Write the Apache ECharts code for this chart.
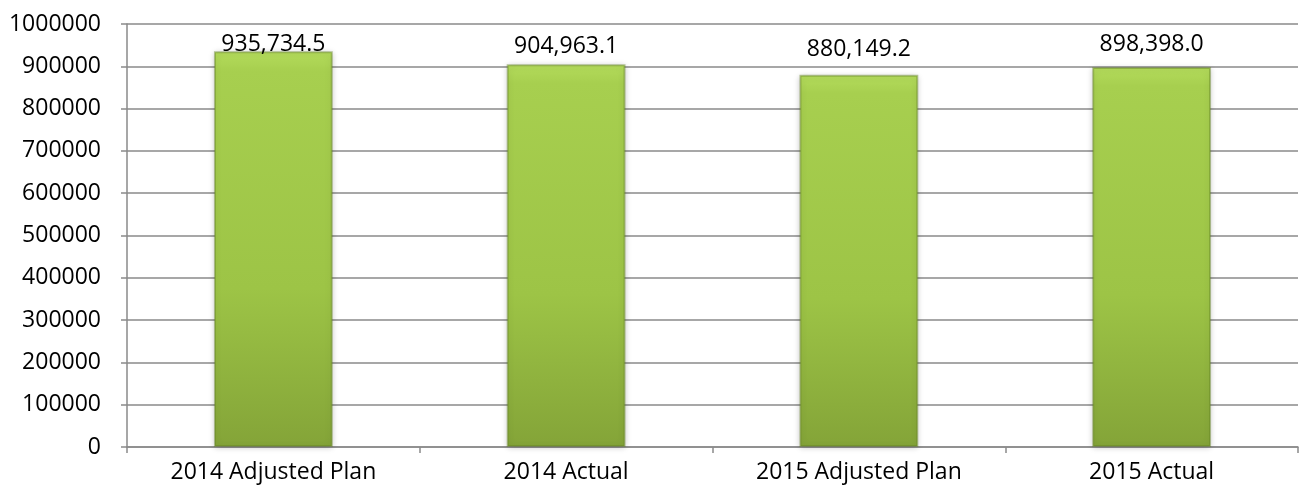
<!DOCTYPE html>
<html>
<head>
<meta charset="utf-8">
<script src="https://cdn.jsdelivr.net/npm/echarts@6/dist/echarts.min.js"></script>
<style>
    html, body {
        margin: 0;
        padding: 0;
        background: #ffffff;
    }
    #chart {
        width: 1299px;
        height: 493px;
    }
</style>
</head>
<body>
<div id="chart"></div>
<script>
// chart data
const categories = ['2014 Adjusted Plan', '2014 Actual', '2015 Adjusted Plan', '2015 Actual']
const values = [935734.5, 904963.1, 880149.2, 898398.0]
const yTicks = [0, 100000, 200000, 300000, 400000, 500000, 600000, 700000, 800000, 900000, 1000000]

// label gap above each bar (px), the source chart is not consistent
const labelGaps = [-5, 6, 14, 11]

const chart = echarts.init(document.getElementById('chart'))

const fontFamily = '"Open Sans", "Liberation Sans", sans-serif'
const gridColor = '#8a8a8a'

const barColor = {
    type: 'linear',
    x: 0,
    y: 0,
    x2: 0,
    y2: 1,
    colorStops: [
        { offset: 0, color: '#b4dc5c' },
        { offset: 0.05, color: '#a7cf4f' },
        { offset: 0.6, color: '#9dc446' },
        { offset: 1, color: '#84a438' },
    ],
}

const option = {
    animation: false,
    grid: {
        left: 127,
        right: 1,
        top: 24,
        bottom: 46,
    },
    xAxis: {
        type: 'category',
        data: categories,
        axisLine: {
            show: true,
            lineStyle: { color: gridColor, width: 1.5 },
        },
        axisTick: {
            show: true,
            length: 6,
            lineStyle: { color: gridColor, width: 1.5 },
        },
        axisLabel: {
            color: '#000000',
            fontSize: 23,
            fontFamily: fontFamily,
            margin: 14,
        },
    },
    yAxis: {
        type: 'value',
        min: yTicks[0],
        max: yTicks[yTicks.length - 1],
        interval: yTicks[1] - yTicks[0],
        axisLine: {
            show: true,
            lineStyle: { color: gridColor, width: 1.5 },
        },
        axisTick: {
            show: true,
            length: 6,
            lineStyle: { color: gridColor, width: 1.5 },
        },
        splitLine: {
            show: true,
            lineStyle: { color: gridColor, width: 1.5 },
        },
        axisLabel: {
            color: '#000000',
            fontSize: 23,
            fontFamily: fontFamily,
            margin: 26,
            formatter: (v) => String(v),
        },
    },
    series: [
        {
            type: 'bar',
            barWidth: '40.6%',
            data: values.map((v, i) => ({
                value: v,
                label: { distance: labelGaps[i] },
            })),
            itemStyle: {
                color: barColor,
                borderColor: 'rgba(100,130,35,0.45)',
                borderWidth: 2,
                shadowColor: 'rgba(0,0,0,0.22)',
                shadowBlur: 6,
                shadowOffsetX: 0,
                shadowOffsetY: 1,
            },
            label: {
                show: true,
                position: 'top',
                color: '#000000',
                fontSize: 23,
                fontFamily: fontFamily,
                formatter: (p) =>
                    p.value.toLocaleString('en-US', {
                        minimumFractionDigits: 1,
                        maximumFractionDigits: 1,
                    }),
            },
        },
    ],
}

chart.setOption(option)
</script>
</body>
</html>
